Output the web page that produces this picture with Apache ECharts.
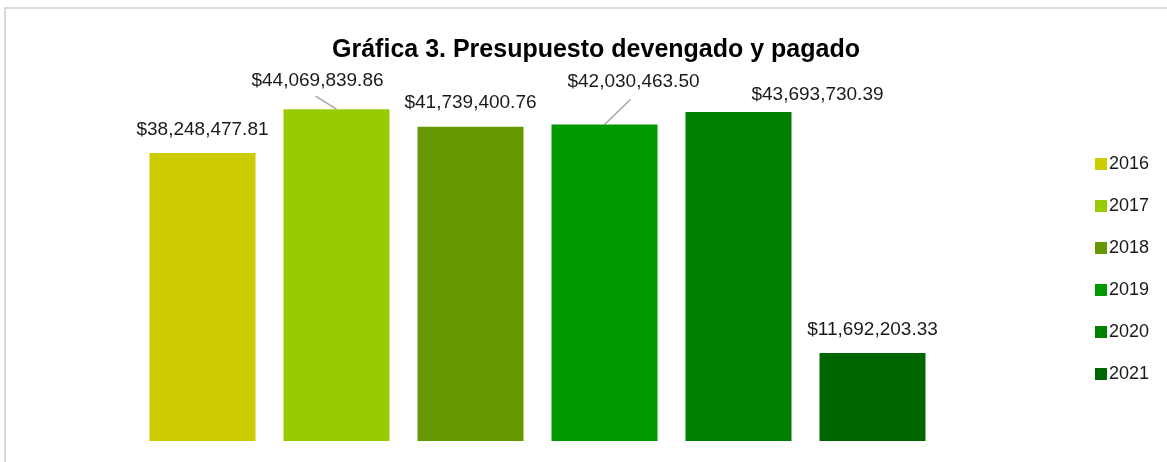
<!DOCTYPE html>
<html>
<head>
<meta charset="utf-8">
<script src="https://cdn.jsdelivr.net/npm/echarts@6/dist/echarts.min.js"></script>
<style>
  html, body { margin: 0; padding: 0; background: #fff; }
  #chart { width: 1167px; height: 462px; }
</style>
</head>
<body>
<div id="chart"></div>
<script>
// datos de la gráfica
var years = ['2016', '2017', '2018', '2019', '2020', '2021'];
var amounts = [38248477.81, 44069839.86, 41739400.76, 42030463.50, 43693730.39, 11692203.33];
var colors = ['#CCCC00', '#99CC00', '#669900', '#009900', '#008000', '#006600'];
// desplazamiento de etiquetas (como en el original de Excel)
var labelDx = [0, -19, 0, 29, 79, 0];
var labelDy = [0, -5, 0, -19, 6, 0];
// líneas guía: índice de barra y extremo relativo a la parte superior de la barra
var leaders = [[1, -21, -13], [3, 26, -25]];

var BAR_W = 106, BAR_STEP = 134;

function money(v) {
  var parts = v.toFixed(2).split('.');
  parts[0] = parts[0].replace(/\B(?=(\d{3})+(?!\d))/g, ',');
  return '$' + parts.join('.');
}

var chart = echarts.init(document.getElementById('chart'));

var series = years.map(function (y, i) {
  return {
    name: y,
    type: 'bar',
    barWidth: BAR_W,
    barGap: ((BAR_STEP - BAR_W) / BAR_W * 100) + '%',
    itemStyle: { color: colors[i] },
    data: [amounts[i]],
    label: {
      show: true,
      position: 'top',
      distance: 14,
      fontFamily: 'Liberation Sans',
      fontSize: 19,
      color: '#1a1a1a',
      formatter: function (p) { return money(p.value); }
    },
    labelLayout: { dx: labelDx[i], dy: labelDy[i] }
  };
});

// líneas guía de las etiquetas desplazadas
series.push({
  type: 'custom',
  name: 'guias',
  silent: true,
  z: 1,
  data: leaders.map(function (l) { return [0, amounts[l[0]], l[0], l[1], l[2]]; }),
  renderItem: function (params, api) {
    var p = api.coord([0, api.value(1)]);
    var idx = api.value(2);
    var x = p[0] + (idx - (years.length - 1) / 2) * BAR_STEP;
    return {
      type: 'line',
      shape: { x1: x, y1: p[1], x2: x + api.value(3), y2: p[1] + api.value(4) },
      style: { stroke: '#a6a6a6', lineWidth: 1.5 }
    };
  }
});

var option = {
  backgroundColor: '#fff',
  animation: false,
  title: {
    text: 'Gráfica 3. Presupuesto devengado y pagado',
    left: 591,
    top: 33,
    textAlign: 'center',
    textStyle: {
      fontFamily: 'Liberation Sans',
      fontWeight: 'bold',
      fontSize: 25,
      color: '#000'
    }
  },
  legend: {
    orient: 'vertical',
    left: 1090,
    top: 150,
    itemWidth: 12,
    itemHeight: 12,
    itemGap: 24,
    icon: 'rect',
    textStyle: {
      fontFamily: 'Liberation Sans',
      fontSize: 18,
      color: '#1a1a1a',
      padding: [0, 0, 0, -3]
    },
    data: years
  },
  grid: { left: 100, right: 192, top: 64.5, bottom: 21 },
  xAxis: {
    type: 'category',
    data: [''],
    show: false
  },
  yAxis: {
    type: 'value',
    min: 0,
    max: 50000000,
    show: false
  },
  graphic: [{
    type: 'polyline',
    shape: { points: [[5, 462], [5, 8], [1167, 8]] },
    style: { stroke: '#d9d9d9', lineWidth: 2, fill: null }
  }],
  series: series
};

chart.setOption(option);
</script>
</body>
</html>
